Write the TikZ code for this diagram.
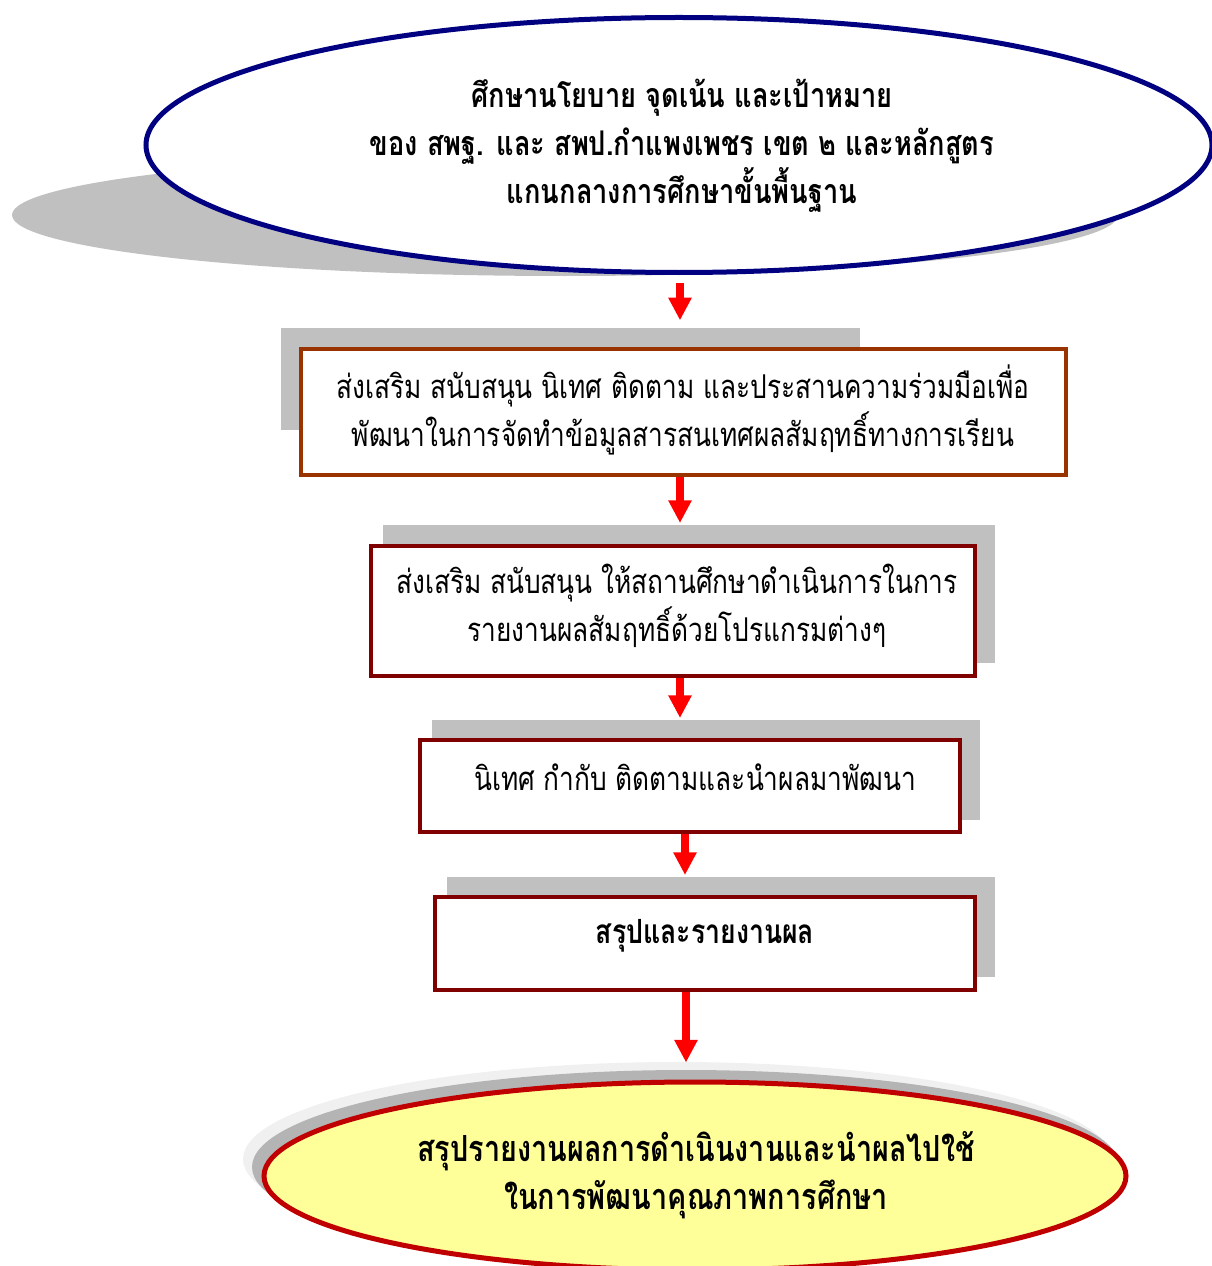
\documentclass[tikz,border=0pt]{standalone}
\usepackage{fontspec}
\newfontfamily\thai[Script=Thai,FakeStretch=0.8]{Loma}
\usetikzlibrary{arrows.meta,shapes.geometric}
\definecolor{navyb}{RGB}{0,0,128}
\definecolor{brownb}{RGB}{153,51,0}
\definecolor{darkredb}{RGB}{128,0,0}
\definecolor{shade}{RGB}{192,192,192}
\definecolor{ylw}{RGB}{255,255,153}
\definecolor{redb}{RGB}{192,0,0}
\definecolor{shadelight}{RGB}{240,240,240}
\definecolor{shademid}{RGB}{180,180,180}
\begin{document}
\begin{tikzpicture}[x=0.75pt,y=-0.75pt,
  shadowbox/.style={rectangle, fill=shade, draw=none, inner sep=0pt, outer sep=0pt},
  stepbox/.style={rectangle, fill=white, line width=3pt, inner sep=0pt},
  txt/.style={align=center, font=\thai\fontsize{24.6}{36}\selectfont, inner sep=0pt},
  arr/.style={draw=red, line width=6pt, -{Triangle[width=16.5pt,length=17pt]}}]
\useasboundingbox (0,0) rectangle (1212,1266);
% top ellipse
\node[ellipse, fill=shade, draw=none, minimum width={1106*0.75pt}, minimum height={122*0.75pt}] (topsh) at (565,215) {};
\node[ellipse, fill=white, draw=navyb, line width=3.75pt, minimum width={1066*0.75pt}, minimum height={255*0.75pt}] (top) at (679,145) {};
\node[txt, font=\thai\bfseries\fontsize{25.5}{36}\selectfont] (toptxt) at (682,146) {ศึกษานโยบาย จุดเน้น และเป้าหมาย\\ของ สพฐ. และ สพป.กำแพงเพชร เขต ๒ และหลักสูตร\\แกนกลางการศึกษาขั้นพื้นฐาน};
% box 1
\node[shadowbox, minimum width={579*0.75pt}, minimum height={102*0.75pt}] (s1) at (570.5,379) {};
\node[stepbox, draw=brownb, minimum width={765*0.75pt}, minimum height={126*0.75pt}] (b1) at (683.5,412) {};
\node[txt] (t1) at (683,410) {ส่งเสริม สนับสนุน นิเทศ ติดตาม และประสานความร่วมมือเพื่อ\\พัฒนาในการจัดทำข้อมูลสารสนเทศผลสัมฤทธิ์ทางการเรียน};
% box 2
\node[shadowbox, minimum width={612*0.75pt}, minimum height={138*0.75pt}] (s2) at (689,594) {};
\node[stepbox, draw=darkredb, minimum width={604*0.75pt}, minimum height={130*0.75pt}] (b2) at (673,611) {};
\node[txt] (t2) at (677,606) {ส่งเสริม สนับสนุน ให้สถานศึกษาดำเนินการในการ\\รายงานผลสัมฤทธิ์ด้วยโปรแกรมต่างๆ};
% box 3
\node[shadowbox, minimum width={548*0.75pt}, minimum height={100*0.75pt}] (s3) at (706,770) {};
\node[stepbox, draw=darkredb, minimum width={540*0.75pt}, minimum height={92*0.75pt}] (b3) at (690,786) {};
\node[txt] (t3) at (695,777) {นิเทศ กำกับ ติดตามและนำผลมาพัฒนา};
% box 4
\node[shadowbox, minimum width={548*0.75pt}, minimum height={100*0.75pt}] (s4) at (721,927) {};
\node[stepbox, draw=darkredb, minimum width={540*0.75pt}, minimum height={93*0.75pt}] (b4) at (705,943.5) {};
\node[txt, font=\thai\bfseries\fontsize{25}{36}\selectfont] (t4) at (705,936) {สรุปและรายงานผล};
% bottom ellipse
\node[ellipse, fill=shadelight, draw=none, minimum width={868*0.75pt}, minimum height={194*0.75pt}] (botl) at (677,1159) {};
\node[ellipse, fill=shademid, draw=none, minimum width={868*0.75pt}, minimum height={194*0.75pt}] (botm) at (686,1167) {};
\node[ellipse, fill=ylw, draw=redb, line width=3.75pt, minimum width={862*0.75pt}, minimum height={188*0.75pt}] (bot) at (695,1176) {};
\node[txt, font=\thai\bfseries\fontsize{27}{36}\selectfont] (bottxt) at (696,1175) {สรุปรายงานผลการดำเนินงานและนำผลไปใช้\\ในการพัฒนาคุณภาพการศึกษา};
% arrows
\draw[arr, shorten <=6pt, shorten >=20pt] ([xshift=0.75pt]top.south) -- ([xshift=0.75pt]top.south |- b1.north);
\draw[arr, shorten >=15.75pt] ([xshift={-3.5*0.75pt}]b1.south) -- ([xshift={-3.5*0.75pt}]b1.south |- b2.north);
\draw[arr, shorten >=15pt] ([xshift={7*0.75pt}]b2.south) -- ([xshift={7*0.75pt}]b2.south |- b3.north);
\draw[arr, shorten >=15pt] ([xshift={-5*0.75pt}]b3.south) -- ([xshift={-5*0.75pt}]b3.south |- b4.north);
\draw[arr, shorten >=12.75pt] ([xshift={-19*0.75pt}]b4.south) -- ([xshift={-19*0.75pt}]b4.south |- bot.north);
\end{tikzpicture}
\end{document}
